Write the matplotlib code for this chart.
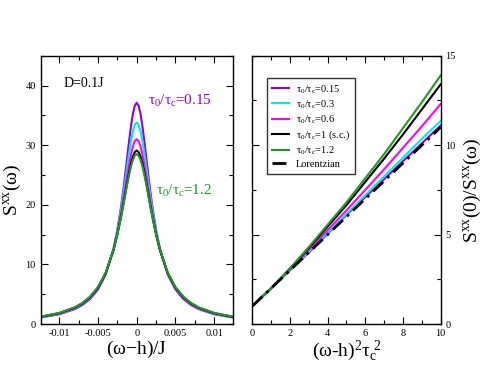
import matplotlib
matplotlib.use("Agg")
import matplotlib.pyplot as plt
from matplotlib.ticker import MultipleLocator

plt.rcParams['font.family'] = ['Liberation Serif', 'DejaVu Serif']
plt.rcParams['mathtext.fontset'] = 'custom'
plt.rcParams['mathtext.rm'] = 'Liberation Serif'
plt.rcParams['mathtext.it'] = 'Liberation Serif'
plt.rcParams['mathtext.bf'] = 'Liberation Serif:bold'

# left panel: S^xx(omega) vs (omega-h)/J, positive half (curves are symmetric)
w_half = [0, 0.00025, 0.0005, 0.00075, 0.001, 0.00125, 0.0015, 0.00175, 0.002,
          0.0025, 0.003, 0.004, 0.005, 0.006, 0.007, 0.008, 0.010, 0.0125]
s_015 = [37.1, 36.6, 35.2, 33.07, 30.5, 27.73, 24.95, 22.31, 19.89,
         15.77, 12.59, 8.32, 5.79, 4.22, 3.20, 2.50, 1.64, 1.07]
s_03 = [33.8, 33.41, 32.3, 30.6, 28.5, 26.2, 23.84, 21.54, 19.39,
        15.64, 12.65, 8.51, 5.99, 4.40, 3.35, 2.62, 1.73, 1.13]
s_06 = [31.0, 30.68, 29.77, 28.36, 26.6, 24.64, 22.6, 20.58, 18.66,
        15.25, 12.46, 8.51, 6.04, 4.46, 3.41, 2.68, 1.77, 1.16]
s_1 = [29.1, 28.83, 28.05, 26.83, 25.3, 23.57, 21.75, 19.93, 18.18,
       15.01, 12.37, 8.55, 6.12, 4.54, 3.48, 2.74, 1.82, 1.19]
s_12 = [28.5, 28.25, 27.51, 26.37, 24.92, 23.28, 21.55, 19.8, 18.11,
        15.03, 12.44, 8.65, 6.21, 4.62, 3.55, 2.80, 1.86, 1.22]

# right panel: S(0)/S(omega) vs (omega-h)^2 tau_c^2
x2 = [0, 1, 2, 3, 4, 5, 6, 7, 8, 9, 10]
r_015 = [1, 2.0, 3.0, 4.0, 5.05, 6.1, 7.1, 8.1, 9.1, 10.1, 11.1]
r_03 = [1, 2.0, 3.0, 4.05, 5.1, 6.15, 7.2, 8.25, 9.3, 10.35, 11.35]
r_06 = [1, 2.0, 3.05, 4.15, 5.25, 6.35, 7.5, 8.65, 9.85, 11.05, 12.3]
r_1 = [1, 2.0, 3.1, 4.25, 5.45, 6.65, 7.95, 9.25, 10.6, 12.0, 13.4]
r_12 = [1, 2.0, 3.1, 4.3, 5.55, 6.8, 8.15, 9.5, 10.95, 12.4, 13.9]
r_lor = [1, 2, 3, 4, 5, 6, 7, 8, 9, 10, 11]

colors = ['#9400d3', '#00e8f0', '#ff00ff', 'black', '#1f9a1f']
labels = [r'$\tau_0/\tau_c$=0.15', r'$\tau_0/\tau_c$=0.3', r'$\tau_0/\tau_c$=0.6',
          r'$\tau_0/\tau_c$=1 (s.c.)', r'$\tau_0/\tau_c$=1.2']

fig = plt.figure(figsize=(4.94, 3.82), dpi=100)
ax1 = fig.add_axes([0.0824, 0.1518, 0.3887, 0.7024])
ax2 = fig.add_axes([0.5107, 0.1518, 0.3814, 0.7024])

for ax in (ax1, ax2):
    ax.tick_params(which='both', direction='in', top=True, right=True,
                   labelsize=7.5, width=0.8)
    ax.tick_params(which='major', length=5)
    ax.tick_params(which='minor', length=3)
    for sp in ax.spines.values():
        sp.set_linewidth(1.0)

# left panel
w_full = [-v for v in w_half[::-1]] + w_half[1:]
for s, c in zip([s_015, s_03, s_06, s_1, s_12], colors):
    full = s[::-1] + s[1:]
    ax1.plot(w_full, full, color=c, lw=1.5)
ax1.set_xlim(-0.0124, 0.0124)
ax1.set_ylim(0, 45)
ax1.xaxis.set_major_locator(MultipleLocator(0.005))
ax1.xaxis.set_minor_locator(MultipleLocator(0.0025))
ax1.yaxis.set_major_locator(MultipleLocator(10))
ax1.yaxis.set_minor_locator(MultipleLocator(5))
ax1.set_xticks([-0.01, -0.005, 0, 0.005, 0.01])
ax1.set_xticklabels(['-0.01', '-0.005', '0', '0.005', '0.01'])
ax1.set_xlabel(r'$(\omega$$-$h$)$/J', fontsize=14, labelpad=1)
ax1.set_ylabel(r'S$^{\rm xx}$($\omega$)', fontsize=14, labelpad=2)
ax1.text(0.12, 0.885, 'D=0.1J', transform=ax1.transAxes, fontsize=10)
ax1.text(0.56, 0.815, r'$\tau_0/\tau_c$=0.15', transform=ax1.transAxes,
         fontsize=11, color=colors[0])
ax1.text(0.6, 0.48, r'$\tau_0/\tau_c$=1.2', transform=ax1.transAxes,
         fontsize=11, color=colors[4])

# right panel
for r, c, lab in zip([r_015, r_03, r_06, r_1, r_12], colors, labels):
    ax2.plot(x2, r, color=c, lw=1.5, label=lab)
ax2.plot(x2, r_lor, color='black', lw=2, ls=(0, (5, 2, 1, 2)), label='Lorentzian')
ax2.set_xlim(0, 10)
ax2.set_ylim(0, 15)
ax2.xaxis.set_major_locator(MultipleLocator(2))
ax2.xaxis.set_minor_locator(MultipleLocator(1))
ax2.yaxis.set_major_locator(MultipleLocator(5))
ax2.yaxis.set_minor_locator(MultipleLocator(2.5))
ax2.tick_params(labelleft=False, labelright=True)
ax2.yaxis.set_label_position('right')
ax2.set_xlabel(r'$(\omega$-h$)^2\tau_c^{\ 2}$', fontsize=14, labelpad=1)
ax2.set_ylabel(r'S$^{\rm xx}$(0)/S$^{\rm xx}$($\omega$)', fontsize=14, labelpad=4)
leg = ax2.legend(loc='upper left', bbox_to_anchor=(0.05, 0.935), fontsize=7.5,
                 frameon=True, fancybox=False, edgecolor='black',
                 handlelength=1.7, borderpad=0.45, labelspacing=0.25,
                 handletextpad=0.6)
leg.get_frame().set_linewidth(1.0)

fig.savefig('out.png', dpi=100)
